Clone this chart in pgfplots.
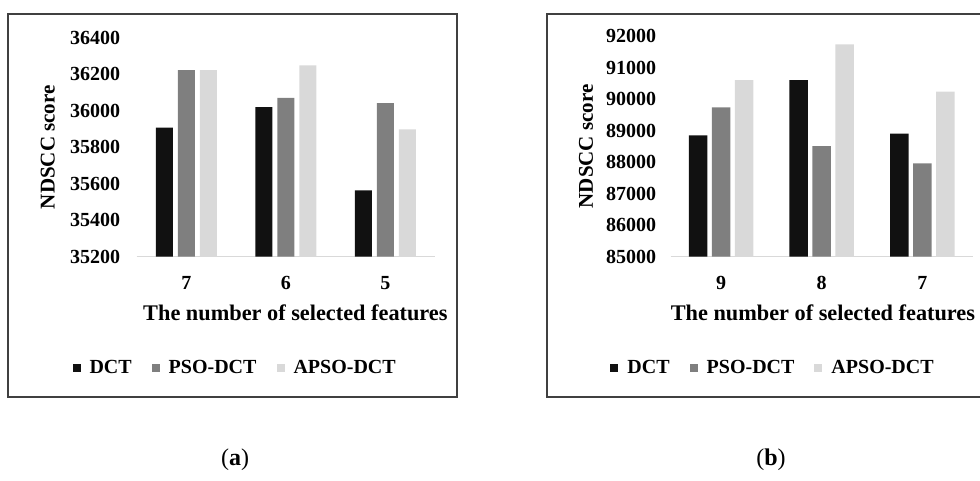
\documentclass[border=0pt]{standalone}
\usepackage{fontspec}
\setmainfont{Liberation Serif}
\usepackage{pgfplots}
\pgfplotsset{compat=1.18}
\definecolor{cA}{HTML}{111111}
\definecolor{cB}{HTML}{7F7F7F}
\definecolor{cC}{HTML}{D9D9D9}
\definecolor{frameC}{HTML}{404040}
\pgfplotsset{
 panel/.style={
  scale only axis,
  xmin=-0.5, xmax=2.5, xtick={0,1,2},
  enlargelimits=false,
  axis x line*=bottom, axis y line*=left,
  x axis line style={cC, line width=1.2pt, -},
  y axis line style={draw=none},
  tick style={draw=none},
  /pgf/number format/assume math mode=true,
  /pgf/number format/1000 sep={},
  scaled y ticks=false,
  ticklabel style={font=\bfseries\fontsize{20}{24}\selectfont},
  xticklabel style={yshift=-12pt},
  xlabel={The number of selected features},
  ylabel={NDSCC score},
  ylabel style={font=\bfseries\fontsize{21}{25}\selectfont},
  xlabel style={font=\bfseries\fontsize{22.3}{26}\selectfont},
  legend columns=3,
  legend style={draw=none, fill=none, font=\bfseries\fontsize{20}{24}\selectfont, anchor=center,
    /tikz/every even column/.append style={column sep=18pt},
    /tikz/every odd column/.append style={column sep=7pt}},
 },
 sqleg/.style={legend image code/.code={\fill[##1] (0pt,-4pt) rectangle (8pt,4pt);}},
}
\begin{document}
\begin{tikzpicture}[x=1pt,y=1pt]
\useasboundingbox (0,0) rectangle (980,480);
\draw[frameC, line width=1.6pt] (8,83) rectangle (457,466);
\draw[frameC, line width=1.6pt] (547,83) rectangle (996,466);
\node[font=\fontsize{24}{28}\selectfont] at (235,20) {(\textbf{a})};
\node[font=\fontsize{24}{28}\selectfont] at (771,20) {(\textbf{b})};

\begin{axis}[panel,
  ybar=5pt, bar width=17pt, sqleg,
  at={(136.7pt,223.3pt)}, anchor=south west,
  width=298.3pt, height=219pt,
  ymin=35200, ymax=36400, ytick={35200,35400,35600,35800,36000,36200,36400},
  xticklabels={7,6,5},
  yticklabel style={xshift=-13pt},
  xlabel style={at={(axis description cs:0.532,-0.257)}, anchor=center},
  ylabel style={at={(axis description cs:-0.298,0.5)}, anchor=center},
  legend style={at={(axis description cs:0.33,-0.508)}},
]
\addplot[fill=cA, draw=none] coordinates {(0,35907) (1,36019) (2,35564)};
\addplot[fill=cB, draw=none] coordinates {(0,36223) (1,36070) (2,36042)};
\addplot[fill=cC, draw=none] coordinates {(0,36223) (1,36249) (2,35898)};
\legend{DCT, PSO-DCT, APSO-DCT}
\end{axis}

\begin{axis}[panel,
  ybar=4.5pt, bar width=18.5pt, sqleg,
  at={(670.7pt,223.3pt)}, anchor=south west,
  width=302pt, height=220.7pt,
  ymin=85000, ymax=92000, ytick={85000,86000,87000,88000,89000,90000,91000,92000},
  xticklabels={9,8,7},
  yticklabel style={xshift=-11pt},
  xlabel style={at={(axis description cs:0.504,-0.255)}, anchor=center},
  ylabel style={at={(axis description cs:-0.28,0.5)}, anchor=center},
  legend style={at={(axis description cs:0.339,-0.504)}},
]
\addplot[fill=cA, draw=none] coordinates {(0,88850) (1,90600) (2,88900)};
\addplot[fill=cB, draw=none] coordinates {(0,89740) (1,88510) (2,87960)};
\addplot[fill=cC, draw=none] coordinates {(0,90600) (1,91735) (2,90235)};
\legend{DCT, PSO-DCT, APSO-DCT}
\end{axis}
\end{tikzpicture}
\end{document}
